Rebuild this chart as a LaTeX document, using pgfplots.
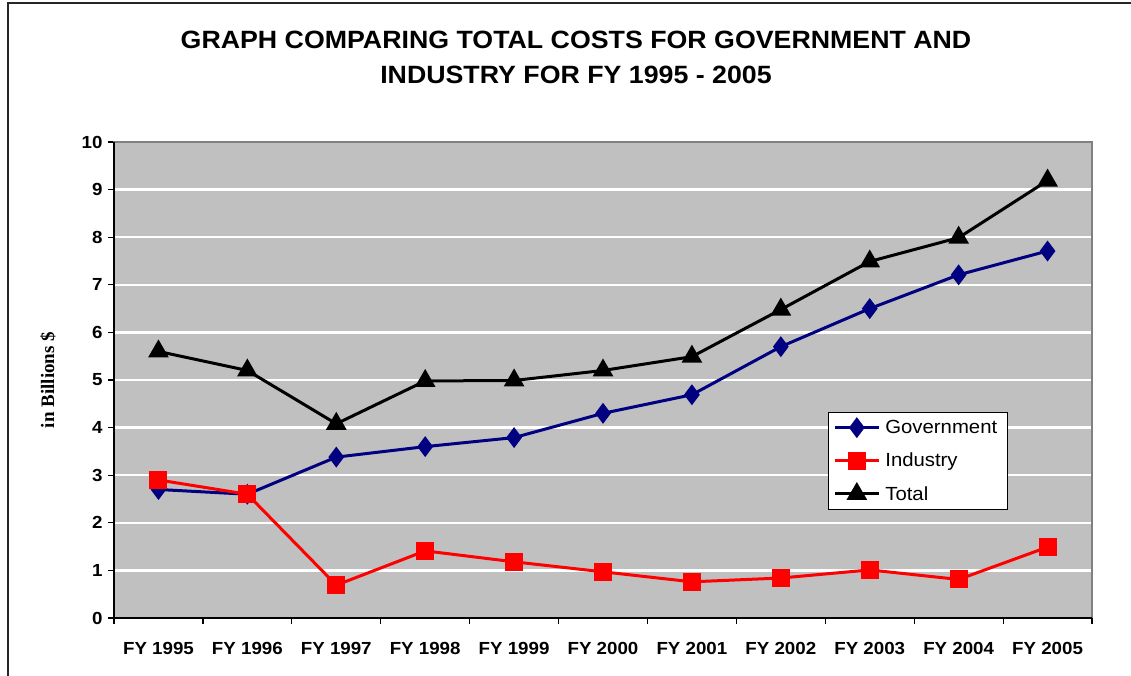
\documentclass[border=0pt]{standalone}
\usepackage{fontspec}
\setmainfont{Liberation Sans}[FakeStretch=1.07]
\newfontfamily\serifbold{Liberation Serif}
\usepackage{pgfplots}
\pgfplotsset{compat=1.18}
\definecolor{plotgray}{RGB}{192,192,192}
\definecolor{navyblue}{RGB}{0,0,128}
\definecolor{axgray}{RGB}{128,128,128}
\begin{document}
\begin{tikzpicture}
\useasboundingbox (0pt,0pt) rectangle (1131pt,-676pt);
\draw[line width=1.3pt, black!85] (8pt,-700pt) -- (8pt,-3pt) -- (1160pt,-3pt);
\node[font=\bfseries\fontsize{25}{30}\selectfont] at (576pt,-40pt) {GRAPH COMPARING TOTAL COSTS FOR GOVERNMENT AND};
\node[font=\bfseries\fontsize{25}{30}\selectfont] at (576pt,-75pt) {INDUSTRY FOR FY 1995 - 2005};
\begin{axis}[
  at={(114pt,-618pt)}, anchor=south west,
  scale only axis, width=978pt, height=476pt,
  xmin=-0.5, xmax=10.5, ymin=0, ymax=10,
  axis background/.style={fill=plotgray},
  axis line style={draw=axgray, line width=1.2pt},
  xtick pos=bottom, ytick pos=left,
  xtick={0,...,10},
  xticklabels={FY 1995,FY 1996,FY 1997,FY 1998,FY 1999,FY 2000,FY 2001,FY 2002,FY 2003,FY 2004,FY 2005},
  xtick style={draw=none},
  extra x ticks={-0.5,0.5,1.5,2.5,3.5,4.5,5.5,6.5,7.5,8.5,9.5,10.5},
  extra x tick labels={},
  extra x tick style={grid=none, xtick pos=bottom, xtick style={draw=black, line width=1.2pt}},
  ytick={0,...,10},
  ytick style={draw=black, line width=1.2pt},
  tick align=outside,
  major tick length=6pt,
  ymajorgrids,
  major grid style={white, line width=2.4pt},
  /pgf/number format/assume math mode=true,
  ticklabel style={font=\bfseries\fontsize{17.5}{20}\selectfont},
  xticklabel style={yshift=-15pt},
  yticklabel style={xshift=-2pt},
  ylabel={in Billions \$},
  ylabel style={font=\serifbold\bfseries\fontsize{19}{22}\selectfont, at={(axis description cs:-0.0675,0.5)}, anchor=center},
  legend style={at={(0.730,0.433)}, anchor=north west, draw=black, fill=white, line width=0.8pt,
    font=\fontsize{19}{22}\selectfont, row sep=14pt, inner xsep=5pt, inner ysep=6pt,
    nodes={inner xsep=5pt}},
  legend cell align=left,
  legend image code/.code={\draw[mark repeat=2,mark phase=2,#1] plot coordinates {(0pt,0pt) (22pt,0pt) (44pt,0pt)};},
  clip=false,
]
\addplot[navyblue, line width=3pt, mark=diamond*, mark size=8pt, mark options={solid}] coordinates {
(0,2.7) (1,2.6) (2,3.38) (3,3.6) (4,3.79) (5,4.3) (6,4.69) (7,5.7) (8,6.5) (9,7.21) (10,7.71)};
\addlegendentry{Government}
\addplot[red, line width=3pt, mark=square*, mark size=7.5pt, mark options={solid}] coordinates {
(0,2.9) (1,2.6) (2,0.69) (3,1.41) (4,1.18) (5,0.97) (6,0.76) (7,0.84) (8,1.01) (9,0.81) (10,1.49)};
\addlegendentry{Industry}
\addplot[black, line width=3pt, mark=triangle*, mark size=9pt, mark options={solid}] coordinates {
(0,5.6) (1,5.2) (2,4.08) (3,4.98) (4,4.99) (5,5.2) (6,5.49) (7,6.48) (8,7.49) (9,7.99) (10,9.19)};
\addlegendentry{Total}
\draw[black, line width=1.3pt] (rel axis cs:0,1) -- (rel axis cs:0,0) -- (rel axis cs:1,0);
\end{axis}
\end{tikzpicture}
\end{document}
